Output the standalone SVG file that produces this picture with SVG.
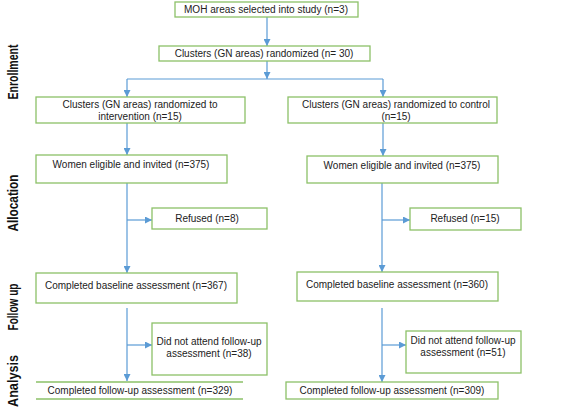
<svg xmlns="http://www.w3.org/2000/svg" width="567" height="412" viewBox="0 0 567 412">
<defs>
<marker id="ah" viewBox="0 0 10 10" refX="10" refY="5" markerWidth="7" markerHeight="7" markerUnits="userSpaceOnUse" orient="auto">
<path d="M0,0 L10,5 L0,10 z" fill="#5b9bd5"/>
</marker>
<style>
.box{fill:#fff;stroke:#8cc168;stroke-width:1.3}
.t{font-family:"Liberation Sans",Arial,sans-serif;font-size:10px;fill:#222;text-anchor:middle}
.c{fill:none;stroke:#5b9bd5;stroke-width:1.2}
.a{marker-end:url(#ah)}
.side{font-family:"Liberation Sans",Arial,sans-serif;font-weight:bold;font-size:15px;fill:#111;text-anchor:middle}
</style>
</defs>
<rect width="567" height="412" fill="#fff"/>
<g id="labels">
<text class="side" transform="translate(18,72) rotate(-90)" textLength="55" lengthAdjust="spacingAndGlyphs">Enrollment</text>
<text class="side" transform="translate(18,203) rotate(-90)" textLength="57" lengthAdjust="spacingAndGlyphs">Allocation</text>
<text class="side" transform="translate(18,307) rotate(-90)" textLength="47" lengthAdjust="spacingAndGlyphs">Follow up</text>
<text class="side" transform="translate(18,381) rotate(-90)" textLength="52" lengthAdjust="spacingAndGlyphs">Analysis</text>
</g>
<g id="connectors">
<path class="c a" d="M267,17 V46"/>
<path class="c" d="M127,79 H383"/>
<path class="c a" d="M267,61 V79"/>
<path class="c a" d="M127,79 V97"/>
<path class="c a" d="M383,79 V97"/>
<path class="c a" d="M127,123 V155"/>
<path class="c a" d="M383,123 V156"/>
<path class="c a" d="M127,183 V273"/>
<path class="c a" d="M127,220 H152"/>
<path class="c a" d="M382,183 V272"/>
<path class="c a" d="M382,220 H410"/>
<path class="c a" d="M127,308 V381"/>
<path class="c a" d="M127,345 H152"/>
<path class="c a" d="M382,308 V382"/>
<path class="c a" d="M382,345 H406"/>
</g>
<g id="moh">
<rect class="box" x="175" y="2" width="183" height="15"/>
<text class="t" x="266" y="13" textLength="164" lengthAdjust="spacingAndGlyphs">MOH areas selected into study (n=3)</text>
</g>
<g id="clusters">
<rect class="box" x="159" y="46" width="211" height="15"/>
<text class="t" x="264" y="57">Clusters (GN areas) randomized (n= 30)</text>
</g>
<g id="cl-int">
<rect class="box" x="36" y="97" width="209" height="26"/>
<text class="t" x="140" y="108">Clusters (GN areas) randomized to</text>
<text class="t" x="140" y="120">intervention (n=15)</text>
</g>
<g id="cl-ctl">
<rect class="box" x="288" y="97" width="209" height="26"/>
<text class="t" x="396" y="108">Clusters (GN areas) randomized to control</text>
<text class="t" x="396" y="120">(n=15)</text>
</g>
<g id="women-int">
<rect class="box" x="36" y="155" width="191" height="28"/>
<text class="t" x="131" y="168">Women eligible and invited (n=375)</text>
</g>
<g id="women-ctl">
<rect class="box" x="307" y="156" width="191" height="27"/>
<text class="t" x="402" y="169">Women eligible and invited (n=375)</text>
</g>
<g id="refused-int">
<rect class="box" x="152" y="208" width="115" height="21"/>
<text class="t" x="207" y="222">Refused (n=8)</text>
</g>
<g id="refused-ctl">
<rect class="box" x="410" y="208" width="111" height="22"/>
<text class="t" x="465" y="222">Refused (n=15)</text>
</g>
<g id="base-int">
<rect class="box" x="36" y="273" width="201" height="30"/>
<text class="t" x="136" y="289">Completed baseline assessment (n=367)</text>
</g>
<g id="base-ctl">
<rect class="box" x="297" y="272" width="201" height="29"/>
<text class="t" x="397" y="288">Completed baseline assessment (n=360)</text>
</g>
<g id="dna-int">
<rect class="box" x="152" y="323" width="115" height="52"/>
<text class="t" x="209" y="345">Did not attend follow-up</text>
<text class="t" x="209" y="357">assessment (n=38)</text>
</g>
<g id="dna-ctl">
<rect class="box" x="406" y="331" width="115" height="42"/>
<text class="t" x="463" y="344">Did not attend follow-up</text>
<text class="t" x="463" y="356">assessment (n=51)</text>
</g>
<g id="fu-int">
<path d="M36,382 H243 M36,399 H243" fill="none" stroke="#8cc168" stroke-width="1.3"/>
<text class="t" x="140" y="394">Completed follow-up assessment (n=329)</text>
</g>
<g id="fu-ctl">
<rect class="box" x="286" y="382" width="212" height="17"/>
<text class="t" x="392" y="394">Completed follow-up assessment (n=309)</text>
</g>
</svg>
